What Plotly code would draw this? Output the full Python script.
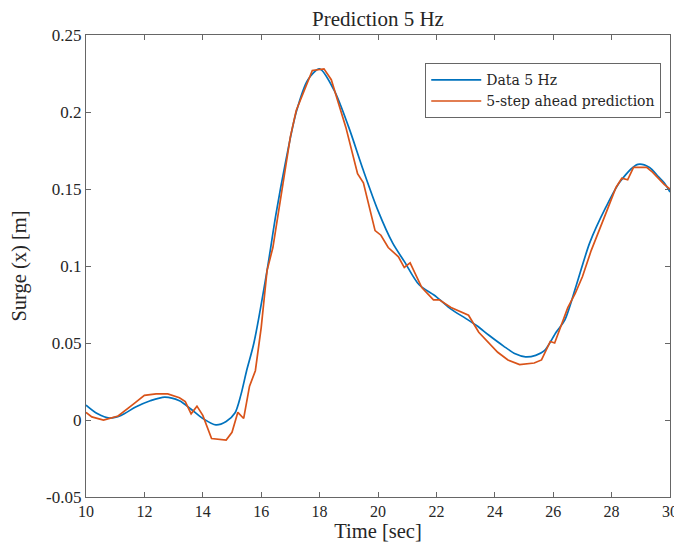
import plotly.graph_objects as go

# Data 5 Hz (measured surge)
t_data = [10, 10.4, 10.8, 11.2, 11.7, 12.2, 12.7, 13.2, 13.6, 14.0, 14.45, 14.8, 15.1, 15.3,
          15.5, 15.75, 16.2, 16.5, 16.85, 17.2, 17.6, 18.0, 18.5, 19.0, 19.5, 20.0, 20.5,
          20.9, 21.4, 22.0, 22.5, 23.0, 23.4, 23.8, 24.3, 24.7, 25.05, 25.4, 25.7, 26.1,
          26.4, 26.8, 27.25, 27.8, 28.3, 28.9, 29.3, 29.6, 29.8, 30]
x_data = [0.0097, 0.004, 0.0013, 0.003, 0.0084, 0.0125, 0.0149, 0.0125, 0.0070, 0.001,
          -0.0032, -0.001, 0.0045, 0.016, 0.032, 0.05, 0.097, 0.133, 0.169, 0.2, 0.221,
          0.228, 0.214, 0.190, 0.162, 0.136, 0.115, 0.103, 0.088, 0.080, 0.072, 0.066,
          0.061, 0.055, 0.048, 0.043, 0.041, 0.042, 0.045, 0.057, 0.065, 0.088, 0.115,
          0.138, 0.155, 0.166, 0.164, 0.158, 0.154, 0.148]

# 5-step ahead prediction
t_pred = [10, 10.2, 10.6, 11.1, 11.6, 12.0, 12.4, 12.8, 13.2, 13.4, 13.6, 13.8, 14.0, 14.3,
          14.8, 15.0, 15.2, 15.4, 15.6, 15.8, 16.0, 16.2, 16.4, 16.7, 17.0, 17.2, 17.45,
          17.75, 18.15, 18.4, 18.9, 19.3, 19.5, 19.9, 20.1, 20.35, 20.7, 20.9, 21.1, 21.5,
          21.9, 22.1, 22.5, 22.9, 23.1, 23.45, 23.7, 24.1, 24.45, 24.85, 25.35, 25.6, 25.9,
          26.05, 26.5, 26.75, 27.0, 27.3, 27.8, 28.15, 28.35, 28.55, 28.75, 29.2, 29.4,
          29.65, 29.8, 30]
x_pred = [0.005, 0.002, 0.0, 0.0026, 0.010, 0.016, 0.017, 0.017, 0.0145, 0.012, 0.004,
          0.009, 0.003, -0.012, -0.013, -0.008, 0.005, 0.001, 0.022, 0.032, 0.060, 0.097,
          0.112, 0.147, 0.184, 0.201, 0.213, 0.227, 0.228, 0.221, 0.190, 0.160, 0.154,
          0.123, 0.120, 0.112, 0.106, 0.099, 0.102, 0.086, 0.078, 0.078, 0.073, 0.070,
          0.068, 0.057, 0.052, 0.044, 0.039, 0.036, 0.037, 0.039, 0.051, 0.050, 0.073,
          0.082, 0.093, 0.110, 0.134, 0.151, 0.157, 0.156, 0.164, 0.164, 0.161, 0.156,
          0.153, 0.150]

x_ticks = [10, 12, 14, 16, 18, 20, 22, 24, 26, 28, 30]
y_ticks = [-0.05, 0, 0.05, 0.1, 0.15, 0.2, 0.25]
y_labels = ["-0.05", "0", "0.05", "0.1", "0.15", "0.2", "0.25"]

FONT = "Liberation Serif, DejaVu Serif, serif"
LEGFONT = "DejaVu Serif, Liberation Serif, serif"
TXT = "#262626"
AXC = "#666666"

W, H = 682, 542
L, R, T, B = 78, 20, 27, 53

fig = go.Figure()
fig.add_trace(go.Scatter(x=t_data, y=x_data, mode="lines", name="Data 5 Hz",
                         line=dict(color="#0072BD", width=1.7, shape="spline", smoothing=0.8)))
fig.add_trace(go.Scatter(x=t_pred, y=x_pred, mode="lines", name="5-step ahead prediction",
                         line=dict(color="#D95319", width=1.7)))

fig.update_layout(
    width=W, height=H,
    margin=dict(l=L, r=R, t=T, b=B, pad=0),
    paper_bgcolor="white", plot_bgcolor="white",
    font=dict(family=FONT, size=17, color=TXT),
    title=dict(text="Prediction 5 Hz", xref="paper", x=0.5, xanchor="center",
               yref="container", y=1 - 3 / H, yanchor="top",
               font=dict(family=FONT, size=21, color=TXT)),
    legend=dict(x=0.985, y=0.939, xanchor="right", yanchor="top",
                bgcolor="white", bordercolor=AXC, borderwidth=1,
                font=dict(family=LEGFONT, size=14, color=TXT),
                tracegroupgap=0, itemwidth=50),
    showlegend=True,
)
fig.update_xaxes(range=[10, 30], tickvals=x_ticks, ticks="inside", ticklen=5,
                 tickcolor=AXC, showline=True, linecolor=AXC, linewidth=1.2,
                 mirror="ticks", showgrid=False, zeroline=False, automargin=False,
                 title=dict(text="Time [sec]", standoff=4, font=dict(size=20.5)),
                 tickfont=dict(size=16))
fig.update_yaxes(range=[-0.05, 0.25], tickvals=y_ticks, ticktext=y_labels,
                 ticks="inside", ticklen=5, tickcolor=AXC, showline=True,
                 linecolor=AXC, linewidth=1.2, mirror="ticks", showgrid=False,
                 zeroline=False, automargin=False,
                 title=dict(text="Surge (x) [m]", standoff=14, font=dict(size=20.5)),
                 tickfont=dict(size=17))

fig.write_html("out.html")
